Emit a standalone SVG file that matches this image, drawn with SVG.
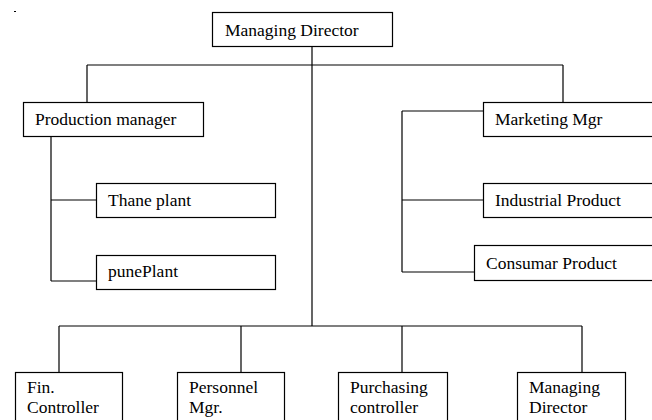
<svg xmlns="http://www.w3.org/2000/svg" width="652" height="420" viewBox="0 0 652 420">
<style>
.box{fill:#fff;stroke:#000;stroke-width:1.2}
.t{font-family:"Liberation Serif","Times New Roman",serif;font-size:17.5px;fill:#000}
.c{fill:none;stroke:#000;stroke-width:1.2}
</style>
<rect width="652" height="420" fill="#fff"/>
<rect x="14" y="11" width="2" height="1" fill="#000"/>
<g id="connectors">
<path class="c" d="M312 46V326M87 65H563M87 65V102M563 65V102"/>
<path class="c" d="M51 137V281M51 200H96M51 281H96"/>
<path class="c" d="M402 111V272M402 111H492M402 200H483M402 272H483"/>
<path class="c" d="M59 326H582M59 326V372M241 326V372M402 326V372M582 326V372"/>
</g>
<g id="md"><rect class="box" x="212.5" y="12.5" width="180" height="34"/><text class="t" x="225" y="36">Managing Director</text></g>
<g id="prod"><rect class="box" x="23.5" y="102.5" width="180" height="34"/><text class="t" x="35" y="125">Production manager</text></g>
<g id="thane"><rect class="box" x="96.5" y="183.5" width="179" height="34"/><text class="t" x="108" y="206">Thane plant</text></g>
<g id="pune"><rect class="box" x="96.5" y="255.5" width="179" height="34"/><text class="t" x="108" y="277">punePlant</text></g>
<g id="mkt"><rect class="box" x="483.5" y="102.5" width="180" height="34"/><text class="t" x="495" y="125">Marketing Mgr</text></g>
<g id="ind"><rect class="box" x="483.5" y="183.5" width="180" height="34"/><text class="t" x="495" y="206">Industrial Product</text></g>
<g id="cons"><rect class="box" x="474.5" y="245.5" width="190" height="35"/><text class="t" x="486" y="269">Consumar Product</text></g>
<g id="fin"><rect class="box" x="15.5" y="372.5" width="107" height="60"/><text class="t" x="27" y="393">Fin.</text><text class="t" x="27" y="413">Controller</text></g>
<g id="pers"><rect class="box" x="177.5" y="372.5" width="107" height="60"/><text class="t" x="189" y="393">Personnel</text><text class="t" x="189" y="413">Mgr.</text></g>
<g id="purch"><rect class="box" x="338.5" y="372.5" width="109" height="60"/><text class="t" x="350" y="393">Purchasing</text><text class="t" x="350" y="413">controller</text></g>
<g id="md2"><rect class="box" x="517.5" y="372.5" width="108" height="60"/><text class="t" x="529" y="393">Managing</text><text class="t" x="529" y="413">Director</text></g>
</svg>
